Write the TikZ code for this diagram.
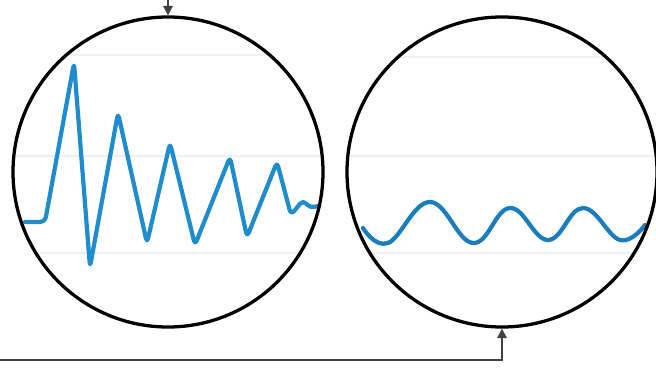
\documentclass[tikz,border=0pt]{standalone}
\usetikzlibrary{arrows.meta}
\definecolor{azul}{RGB}{30,140,205}
\definecolor{azulosc}{RGB}{25,125,190}
\begin{document}
\begin{tikzpicture}[
  x=0.03cm, y=-0.03cm,
  circulo/.style={draw=black, line width=2.8pt, circle, minimum size=9.3cm, inner sep=0pt},
  guia/.style={draw=black!6, line width=1pt},
  onda/.style={draw=azul, line width=3.6pt, line join=round, line cap=round},
  flecha/.style={draw=black!75, line width=1.6pt, -{Triangle[length=8pt,width=8pt]}}
]
\useasboundingbox (0,0) rectangle (656,370);
% lineas guia
\begin{scope}
  \clip (168,172) circle [radius=155];
  \foreach \y in {55,156,253} \draw[guia] (0,\y) -- (330,\y);
\end{scope}
\begin{scope}
  \clip (502,172) circle [radius=155];
  \foreach \y in {57,156,253} \draw[guia] (340,\y) -- (660,\y);
\end{scope}
% ondas
\draw[onda, rounded corners=4pt] (25,222) -- (45,222) -- (74,63) -- (90,267) -- (118,113)
  -- (147,243) -- (170,143) -- (195,245) -- (230,157) -- (247,237) -- (277,162)
  -- (291,215) -- (303,200) -- (310,208) -- (318,206);
\draw[onda, draw=azulosc] plot[smooth, tension=0.7] coordinates {(363,228) (388,243) (430,202) (473,243)
  (510,208) (548,240) (583,208) (620,240) (645,225)};
% circulos
\node[circulo] (izq) at (168,172) {};
\node[circulo] (der) at (502,172) {};
% conexiones
\coordinate (entrada) at (168,0);
\coordinate (retorno) at (0,360);
\draw[flecha] (entrada) -- (izq.north);
\draw[flecha] (retorno) -| (der.south);
\end{tikzpicture}
\end{document}
